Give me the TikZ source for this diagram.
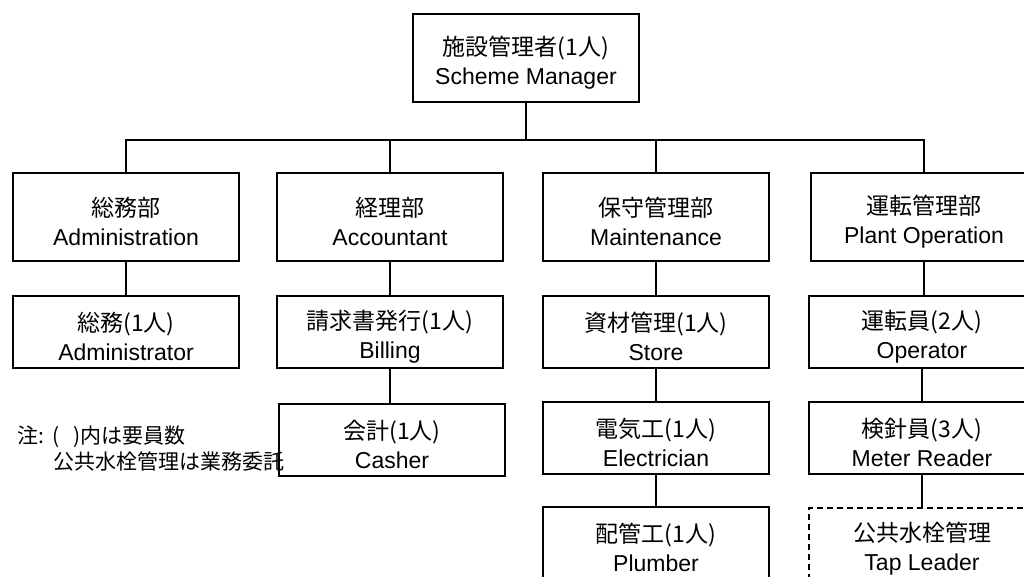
\documentclass[tikz,border=0pt]{standalone}
\usepackage{fontspec}
\setmainfont{Liberation Sans}
\newfontfamily\jp{Noto Sans CJK JP}
% Japanese first line of a box, with a strut that sets it a little lower
\newcommand{\jpline}[1]{{\jp\rule{0pt}{28pt}#1}}

\begin{document}
\begin{tikzpicture}[
	x=1pt, y=-1pt,
	font=\fontsize{23}{29}\selectfont,
	% Styles for the unit boxes and the connectors
	unitbox/.style={draw, line width=1.6pt, minimum width=226pt, minimum height=88pt, align=center, inner sep=0pt},
	staffbox/.style={unitbox, minimum height=72pt},
	outsourced/.style={staffbox, dash pattern=on 6pt off 4pt},
	link/.style={line width=1.9pt},
	bus/.style={line width=2.8pt, line cap=rect},
	notetext/.style={anchor=west, inner sep=0pt, font=\fontsize{21}{25}\selectfont}
	]
	
	% page is 1024 x 577, boxes on the right and bottom run off it
	\clip (0,0) rectangle (1024,577);
	
	% ==========================================
	% 1. SCHEME MANAGER
	% ==========================================
	\node[unitbox] (mgr) at (526,58) {\jpline{施設管理者(1人)}\\Scheme Manager};
	\coordinate (busmid) at (526,140);
	
	% ==========================================
	% 2. DEPARTMENTS
	% ==========================================
	\node[unitbox] (adm) at (126,217) {\jpline{総務部}\\Administration};
	\node[unitbox] (acc) at (390,217) {\jpline{経理部}\\Accountant};
	\node[unitbox] (mnt) at (656,217) {\jpline{保守管理部}\\Maintenance};
	\node[unitbox] (ops) at (924,217) {\jpline{運転管理部}\\Plant Operation};
	
	% ==========================================
	% 3. STAFF
	% ==========================================
	% Administration
	\node[staffbox] (admstaff) at (126,332) {\jpline{総務(1人)}\\Administrator};
	% Accountant
	\node[staffbox] (billing) at (390,332) {\jpline{請求書発行(1人)}\\Billing};
	\node[staffbox] (casher) at (392,440) {\jpline{会計(1人)}\\Casher};
	% Maintenance
	\node[staffbox] (store) at (656,332) {\jpline{資材管理(1人)}\\Store};
	\node[staffbox] (elec) at (656,438) {\jpline{電気工(1人)}\\Electrician};
	\node[staffbox] (plumb) at (656,543) {\jpline{配管工(1人)}\\Plumber};
	% Plant Operation
	\node[staffbox] (oper) at (922,332) {\jpline{運転員(2人)}\\Operator};
	\node[staffbox] (meter) at (922,438) {\jpline{検針員(3人)}\\Meter Reader};
	\node[outsourced] (tap) at (922,544) {\jpline{公共水栓管理}\\Tap Leader};
	
	% ==========================================
	% 4. CONNECTORS
	% ==========================================
	\draw[link] (mgr) -- (busmid);
	\draw[bus] (adm.north |- busmid) -- (ops.north |- busmid);
	\foreach \unit in {adm,acc,mnt,ops}
		\draw[link] (\unit.north |- busmid) -- (\unit.north);
	
	\draw[link] (adm) -- (admstaff);
	\draw[link] (acc) -- (billing);
	\draw[link] (billing.south) -- (billing.south |- casher.north);
	\draw[link] (mnt) -- (store);
	\draw[link] (store) -- (elec);
	\draw[link] (elec) -- (plumb);
	\draw[link] (ops.south) -- (ops.south |- oper.north);
	\draw[link] (oper) -- (meter);
	\draw[link] (meter) -- (tap);
	
	% ==========================================
	% 5. NOTES
	% ==========================================
	\node[notetext] (note1) at (17,437) {\jp 注:\hspace{8pt}(\hspace{14pt})内は要員数};
	\node[notetext] (note2) at (53,462) {\jp 公共水栓管理は業務委託};
\end{tikzpicture}
\end{document}
